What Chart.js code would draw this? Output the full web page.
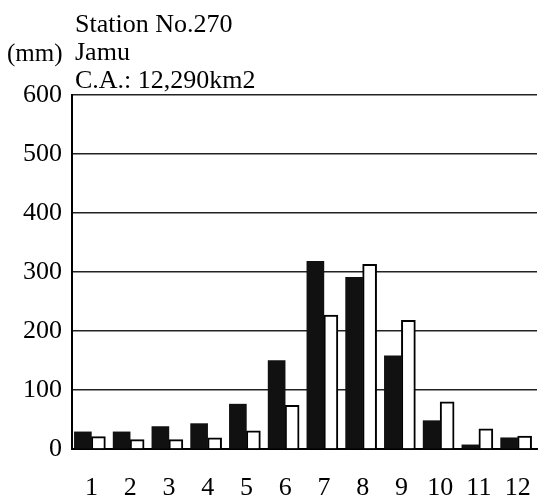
<!DOCTYPE html>
<html>
<head>
<meta charset="utf-8">
<script src="https://cdn.jsdelivr.net/npm/chart.js@4/dist/chart.umd.min.js"></script>
<style>
html,body{margin:0;padding:0;background:#fff;}
#wrap{width:538px;height:502px;position:relative;}
</style>
</head>
<body>
<div id="wrap"><canvas id="c" width="538" height="502"></canvas></div>
<script>
const months = ['1','2','3','4','5','6','7','8','9','10','11','12'];
const seriesBlack = [29, 29, 38, 43, 76, 150, 318, 291, 158, 48, 7, 19];
const seriesWhite = [21, 16, 16, 19, 31, 74, 227, 313, 218, 80, 34, 22];
const yTicks = [0, 100, 200, 300, 400, 500, 600];
const titleLines = ['Station No.270', 'Jamu', 'C.A.: 12,290km2'];
const unitLabel = '(mm)';

const FONT = '"Liberation Serif", "Times New Roman", serif';

const textPlugin = {
  id: 'texts',
  afterDraw(chart) {
    const ctx = chart.ctx;
    ctx.save();
    ctx.fillStyle = '#000';
    ctx.textBaseline = 'alphabetic';
    ctx.textAlign = 'left';
    ctx.font = '26px ' + FONT;
    const ys = [32, 60, 88];
    titleLines.forEach((t, i) => ctx.fillText(t, 75, ys[i]));
    ctx.font = '25px ' + FONT;
    ctx.fillText(unitLabel, 7, 61);
    ctx.restore();
  }
};

new Chart(document.getElementById('c'), {
  type: 'bar',
  data: {
    labels: months,
    datasets: [
      { data: seriesBlack, backgroundColor: '#111', borderWidth: 0, barThickness: 17 },
      { data: seriesWhite, backgroundColor: '#fff', borderColor: '#000', borderWidth: 2, barThickness: 14 }
    ]
  },
  options: {
    responsive: false,
    animation: false,
    devicePixelRatio: 1,
    layout: { padding: { top: 95, right: 1, left: 0, bottom: 0 } },
    datasets: { bar: { categoryPercentage: 0.84, barPercentage: 1.0 } },
    plugins: { legend: { display: false }, tooltip: { enabled: false } },
    scales: {
      x: {
        grid: { display: false, drawTicks: false },
        border: { display: true, color: '#000', width: 2 },
        ticks: { color: '#000', font: { family: FONT, size: 26 }, padding: 24, maxRotation: 0, autoSkip: false },
        afterFit(scale) { scale.height = 53; scale.paddingLeft = 0; scale.paddingRight = 0; }
      },
      y: {
        min: 0, max: 600,
        afterBuildTicks(scale) { scale.ticks = yTicks.map(v => ({ value: v })); },
        grid: { color: '#222', lineWidth: 1.5, drawTicks: false },
        border: { display: true, color: '#000', width: 2 },
        ticks: { color: '#000', font: { family: FONT, size: 26 }, padding: 10 },
        afterFit(scale) { scale.width = 72; }
      }
    }
  },
  plugins: [textPlugin]
});
</script>
</body>
</html>
